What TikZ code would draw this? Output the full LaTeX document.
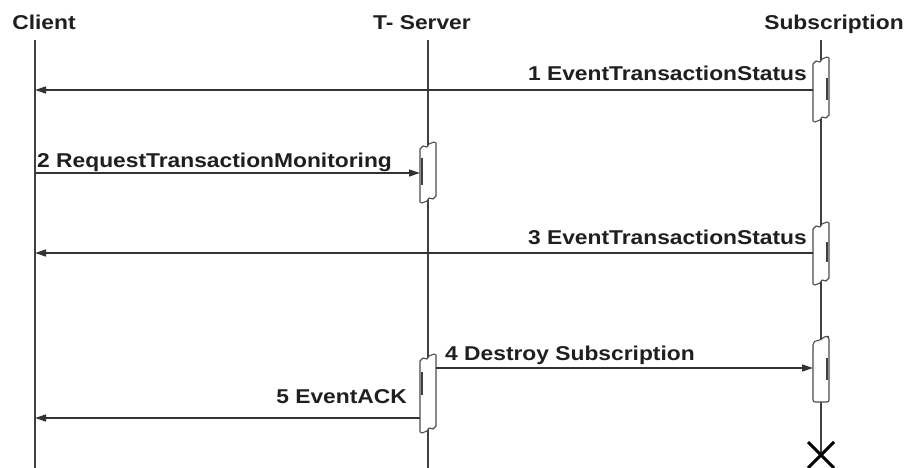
\documentclass[tikz,border=0pt]{standalone}
\usepackage{fontspec}
\setmainfont{Liberation Sans}[FakeStretch=1.14]
\usetikzlibrary{arrows.meta}
\begin{document}
\begin{tikzpicture}[x=1pt,y=-1pt,
  lbl/.style={inner sep=0pt,font=\fontsize{20}{24}\selectfont\bfseries,text=black!88},
  life/.style={draw=black!75,line width=1.3pt},
  bar/.style={draw=black!70,line width=1.1pt,fill=white,line join=round},
  thick mark/.style={draw=black!75,line width=2.2pt},
  msg/.style={draw=black!80,line width=1.3pt,-{Triangle[length=11pt,width=7pt]}}]
\useasboundingbox (0,0) rectangle (907,468);
% headers
\node[lbl,anchor=base] (hc) at (44,30) {Client};
\node[lbl,anchor=base] (ht) at (422,30) {T- Server};
\node[lbl,anchor=base] (hs) at (834,30) {Subscription};
% lifelines
\coordinate (c0) at (35,40); \coordinate (c1) at (35,468);
\coordinate (t0) at (428,40); \coordinate (t1) at (428,468);
\coordinate (s0) at (821,40); \coordinate (s1) at (821,455);
\draw[life] (c0) -- (c1);
\draw[life] (t0) -- (t1);
\draw[life] (s0) -- (s1);
% destroy mark
\draw[draw=black,line width=3pt] (808,442) -- (834,468) (808,468) -- (834,442);
% activation bars (torn ends)
\newcommand\tornbar[3]{% center, top, bottom
  \draw[bar] (#1-8,#2+7) -- (#1-5,#2+4) -- (#1-1,#2+5) -- (#1+1,#2+2) -- (#1+6,#2) -- (#1+8,#2+1)
    -- (#1+8,#3-7) -- (#1+5,#3-4) -- (#1+1,#3-5) -- (#1-1,#3-2) -- (#1-6,#3) -- (#1-8,#3-1) -- cycle;}
\tornbar{821}{57}{122}
\tornbar{428}{142}{203}
\tornbar{821}{222}{285}
\tornbar{428}{354}{433}
\draw[bar,rounded corners=2pt] (813,402) -- (813,343) -- (816,340) -- (820,341) -- (822,338) -- (827,336) -- (829,337) -- (829,402) -- cycle;
% inner marks
\draw[thick mark] (827,78) -- (827,100);
\draw[thick mark] (422,158) -- (422,185);
\draw[thick mark] (827,242) -- (827,262);
\draw[thick mark] (422,372) -- (422,395);
\draw[thick mark] (827,358) -- (827,380);
% message end points
\coordinate (m1s) at (813,90);  \coordinate (m1e) at (35,90);
\coordinate (m2s) at (35,173);  \coordinate (m2e) at (420,173);
\coordinate (m3s) at (813,253); \coordinate (m3e) at (35,253);
\coordinate (m4s) at (436,368); \coordinate (m4e) at (813,368);
\coordinate (m5s) at (420,418); \coordinate (m5e) at (35,418);
\draw[msg] (m1s) -- (m1e);
\draw[msg] (m2s) -- (m2e);
\draw[msg] (m3s) -- (m3e);
\draw[msg] (m4s) -- (m4e);
\draw[msg] (m5s) -- (m5e);
% labels
\node[lbl,anchor=base east] (l1) at (807,81) {1 EventTransactionStatus};
\node[lbl,anchor=base west] (l2) at (37,167) {2 RequestTransactionMonitoring};
\node[lbl,anchor=base east] (l3) at (807,244) {3 EventTransactionStatus};
\node[lbl,anchor=base west] (l4) at (445,360) {4 Destroy Subscription};
\node[lbl,anchor=base east] (l5) at (407,403) {5 EventACK};
\end{tikzpicture}
\end{document}
